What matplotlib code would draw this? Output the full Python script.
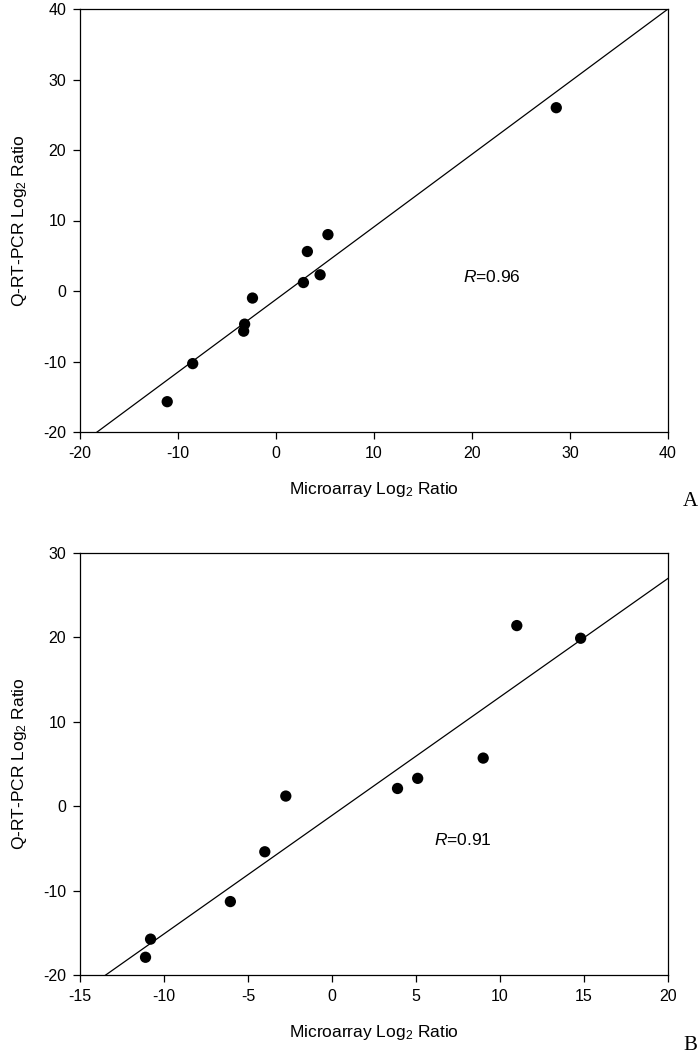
import numpy as np
import matplotlib
matplotlib.use("Agg")
import matplotlib.pyplot as plt

plt.rcParams["font.family"] = ["Liberation Sans", "DejaVu Sans"]
plt.rcParams["mathtext.fontset"] = "custom"
plt.rcParams["mathtext.rm"] = "Liberation Sans"
plt.rcParams["mathtext.it"] = "Liberation Sans:italic"
plt.rcParams["axes.unicode_minus"] = False

# panel A
xa = [28.6, 5.3, 3.2, 4.5, 2.8, -2.4, -3.2, -3.3, -8.5, -11.1]
ya = [26.0, 8.0, 5.6, 2.3, 1.2, -1.0, -4.7, -5.7, -10.3, -15.7]
fit_a = (1.03, -1.2)
r_a = "0.96"

# panel B
xb = [11.0, 14.8, 9.0, 5.1, 3.9, -2.75, -4.0, -6.05, -10.8, -11.1]
yb = [21.4, 19.9, 5.7, 3.3, 2.1, 1.2, -5.4, -11.3, -15.75, -17.9]
fit_b = (1.404, -1.09)
r_b = "0.91"

fig = plt.figure(figsize=(7, 10.55), dpi=100)
W, H = 700, 1055


def panel(box, x, y, fit, r, xlim, ylim, xticks, yticks, rpos, letter):
    l, t, r_, b = box
    ax = fig.add_axes([l / W, 1 - b / H, (r_ - l) / W, (b - t) / H])
    ax.scatter(x, y, s=66, color="black", zorder=3, edgecolors="none")
    lx = np.array(xlim, dtype=float)
    ax.plot(lx, fit[0] * lx + fit[1], color="black", lw=0.9, zorder=2)
    ax.set_xlim(xlim)
    ax.set_ylim(ylim)
    ax.set_xticks(xticks)
    ax.set_yticks(yticks)
    ax.tick_params(direction="out", length=5, width=0.9, labelsize=11.5,
                   top=False, right=False, pad=5)
    for s in ax.spines.values():
        s.set_linewidth(0.9)
    ax.set_xlabel("Microarray Log$_2$ Ratio", fontsize=12.5, labelpad=14)
    ax.set_ylabel("Q-RT-PCR Log$_2$ Ratio", fontsize=12.5, labelpad=10)
    ax.text(rpos[0], rpos[1], "$R$=" + r, fontsize=12.5, ha="center", va="center")
    fig.text(690 / W, 1 - (b + 70) / H, letter, fontsize=15,
             family="Liberation Serif", ha="center", va="center")
    return ax


panel((80, 9, 668, 432), xa, ya, fit_a, r_a, (-20, 40), (-20, 40),
      range(-20, 41, 10), range(-20, 41, 10), (22.0, 2.0), "A")
panel((80, 553, 668, 975), xb, yb, fit_b, r_b, (-15, 20), (-20, 30),
      range(-15, 21, 5), range(-20, 31, 10), (7.8, -4.0), "B")

fig.savefig("out.png", dpi=100)
